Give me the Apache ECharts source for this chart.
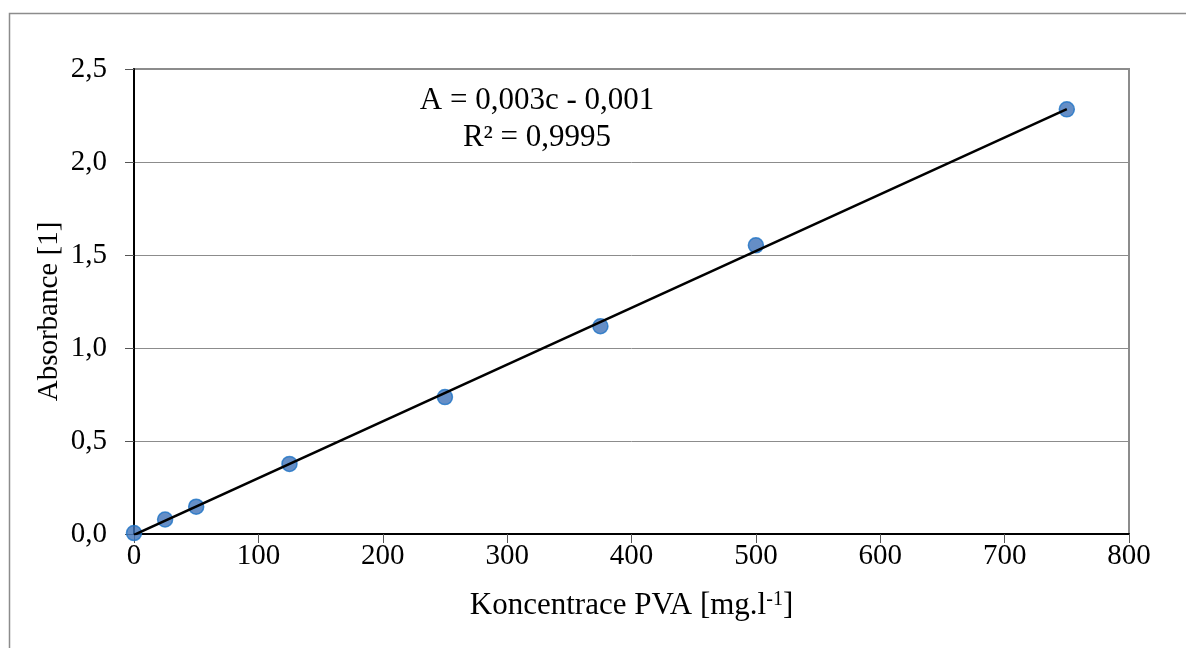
<!DOCTYPE html>
<html>
<head>
<meta charset="utf-8">
<script src="https://cdn.jsdelivr.net/npm/echarts@6/dist/echarts.min.js"></script>
<style>
  html, body { margin: 0; padding: 0; background: #fff; }
  #chart { width: 1186px; height: 648px; }
</style>
</head>
<body>
<div id="chart"></div>
<script>
// measured data: concentration [mg/l] vs absorbance
const conc = [0, 25, 50, 125, 250, 375, 500, 750]
const absorb = [0.005, 0.078, 0.147, 0.377, 0.736, 1.117, 1.552, 2.283]
const eqText = 'A = 0,003c - 0,001'
const r2Text = 'R² = 0,9995'

// least squares trendline
let n = conc.length
let sx = 0, sy = 0, sxx = 0, sxy = 0
for (let i = 0; i < n; i++) {
    sx += conc[i]; sy += absorb[i]
    sxx += conc[i] * conc[i]; sxy += conc[i] * absorb[i]
}
let slope = (n * sxy - sx * sy) / (n * sxx - sx * sx)
let icpt = (sy - slope * sx) / n
let xFirst = conc[0], xLast = conc[n - 1]
let trend = [[xFirst, icpt + slope * xFirst], [xLast, icpt + slope * xLast]]

const font = 'Liberation Serif, Times New Roman, serif'
let chart = echarts.init(document.getElementById('chart'))
chart.setOption({
    animation: false,
    grid: {left: 134, right: 57, top: 69, bottom: 114, show: true, borderColor: '#8c8c8c', borderWidth: 2},
    xAxis: {
        type: 'value', min: 0, max: 800, interval: 100,
        axisLine: {lineStyle: {color: '#000', width: 2}},
        axisTick: {show: true, length: 9, lineStyle: {color: '#555'}},
        axisLabel: {color: '#000', fontFamily: font, fontSize: 29, margin: 8},
        splitLine: {show: false},
        name: '{a|Koncentrace PVA [mg.l}{s|-1}{a|]}',
        nameLocation: 'middle', nameGap: 56, nameMoveOverlap: false,
        nameTextStyle: {
            rich: {
                a: {fontFamily: font, fontSize: 31, color: '#000'},
                s: {fontFamily: font, fontSize: 20, color: '#000', verticalAlign: 'top', padding: [0, 0, 12, 0]}
            }
        }
    },
    yAxis: {
        type: 'value', min: 0, max: 2.5, interval: 0.5,
        axisLine: {show: true, lineStyle: {color: '#000', width: 2}},
        axisTick: {show: true, length: 9, lineStyle: {color: '#555'}},
        axisLabel: {color: '#000', fontFamily: font, fontSize: 29, margin: 27,
            formatter: v => v.toFixed(1).replace('.', ',')},
        splitLine: {lineStyle: {color: '#8c8c8c', width: 1}},
        name: 'Absorbance [1]', nameLocation: 'middle', nameGap: 70, nameMoveOverlap: false,
        nameTextStyle: {fontFamily: font, fontSize: 29, color: '#000', padding: [0, 20, 0, 0]}
    },
    graphic: [
        {type: 'rect', shape: {x: 9.5, y: 13.5, width: 1200, height: 660},
            style: {fill: 'none', stroke: '#8c8c8c', lineWidth: 1.5}, silent: true},
        {type: 'text', x: 537, y: 82,
            style: {text: eqText + '\n' + r2Text, font: '31px ' + font, fill: '#000', align: 'center', lineHeight: 37}}
    ],
    series: [
        {
            type: 'line', data: trend, symbol: 'none', z: 3,
            lineStyle: {color: '#000', width: 2.5}
        },
        {
            type: 'scatter', data: conc.map((c, i) => [c, absorb[i]]),
            symbol: 'circle', symbolSize: 15, z: 2,
            itemStyle: {color: '#3f72b8', borderColor: '#1d73c6', borderWidth: 1.5}
        }
    ]
})
</script>
</body>
</html>
